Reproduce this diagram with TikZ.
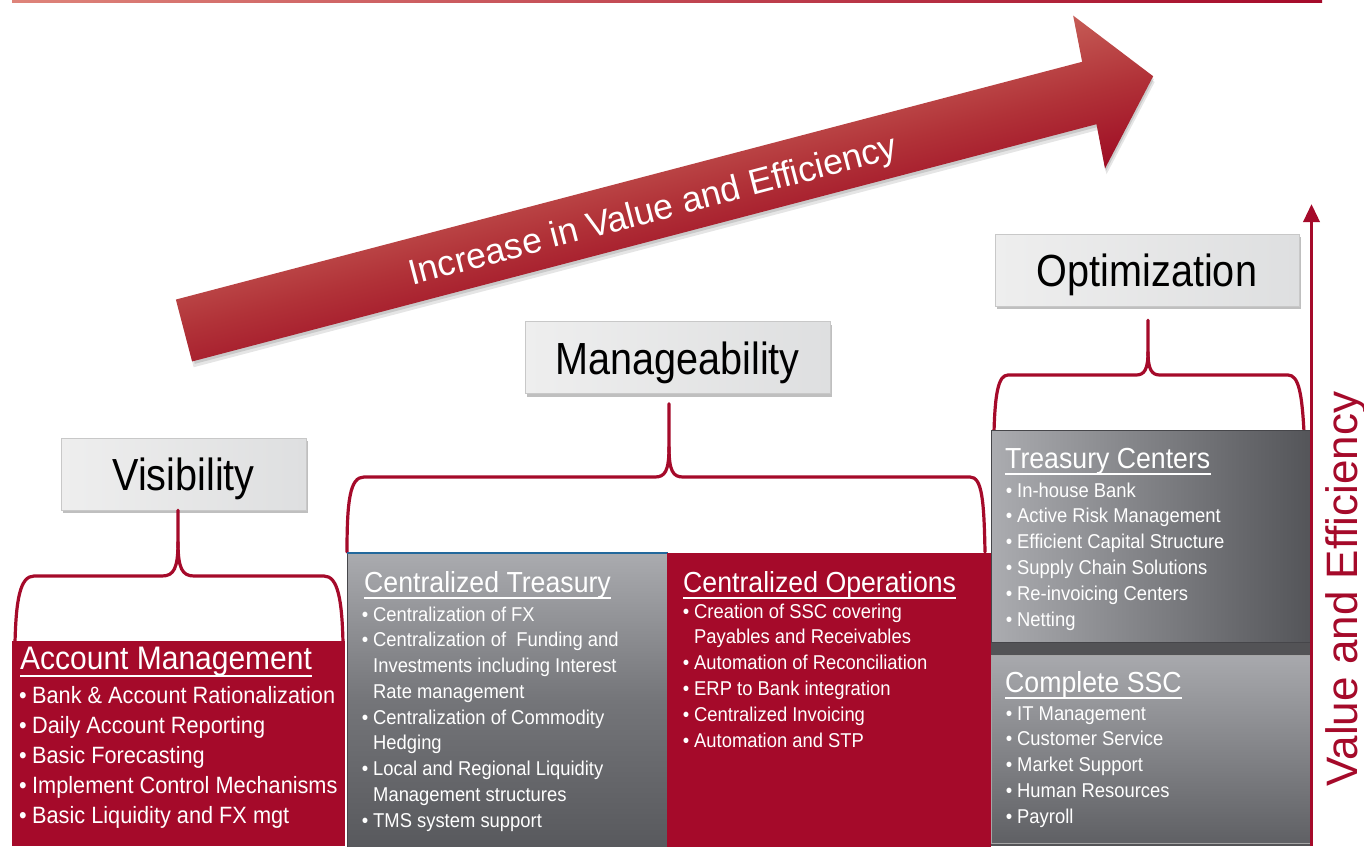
\documentclass[tikz,border=0pt]{standalone}
\usepackage{fontspec}
\setmainfont{Liberation Sans}
\newfontfamily\condfont{Liberation Sans}[FakeStretch=0.92]
\newfontfamily\labelfont{Liberation Sans}[FakeStretch=0.88]
\usetikzlibrary{arrows.meta,shadows,calc}

\definecolor{brandred}{RGB}{165,10,42}
\definecolor{topl}{RGB}{222,132,122}
\definecolor{labelleft}{RGB}{238,238,238}
\definecolor{labelright}{RGB}{222,223,224}
\definecolor{labelborder}{RGB}{200,200,200}
\definecolor{ctTop}{RGB}{170,171,175}
\definecolor{ctMid}{RGB}{116,117,121}
\definecolor{ctBot}{RGB}{88,89,93}
\definecolor{tcLeft}{RGB}{171,172,176}
\definecolor{tcRight}{RGB}{84,85,89}
\definecolor{sscTop}{RGB}{168,169,173}
\definecolor{sscBot}{RGB}{95,96,100}
\definecolor{colback}{RGB}{83,83,86}
\definecolor{topblue}{RGB}{34,104,156}
\definecolor{paneledge}{RGB}{70,70,74}
\definecolor{arrowTop}{RGB}{198,92,86}
\definecolor{arrowMid}{RGB}{177,50,56}
\definecolor{arrowBot}{RGB}{158,12,36}

\newcommand\bul{\llap{•\hspace{5pt}}}
\newcommand\bigbul{\llap{•\hspace{5.5pt}}}

\tikzset{
  labelbox/.style={draw=labelborder, line width=0.6pt, left color=labelleft,
    right color=labelright, minimum height=72pt, inner sep=0pt,
    text height=33pt, text depth=0pt,
    font=\labelfont\fontsize{45}{45}\selectfont,
    drop shadow={shadow xshift=2pt, shadow yshift=-3pt, fill=black!45, opacity=0.55}},
  brace/.style={draw=brandred, line width=3.2pt, line cap=round, line join=round},
  redpanel/.style={anchor=north west, fill=brandred, inner sep=0pt},
  graypanel/.style={anchor=north west, draw=paneledge, line width=0.8pt, inner sep=0pt},
  paneltitle/.style={anchor=base west, inner sep=0pt, text=white,
    font=\condfont\fontsize{29}{29}\selectfont},
  bigtitle/.style={paneltitle, font=\condfont\fontsize{32.6}{32.6}\selectfont},
  item/.style={anchor=base west, inner sep=0pt, text=white,
    font=\condfont\fontsize{20}{20}\selectfont},
  bigitem/.style={item, font=\condfont\fontsize{23.6}{23.6}\selectfont},
  uline/.style={draw=white, line width=2pt},
}

\begin{document}
\begin{tikzpicture}[x=1pt,y=-1pt]
\useasboundingbox (0,0) rectangle (1364,846);
\fill[white] (0,0) rectangle (1364,846);

% thin rule along the top edge
\shade[left color=topl, right color=brandred] (12,0) rectangle (1322,2.5);

% big slanted arrow, drawn horizontally and turned into place
\begin{scope}[transform canvas={shift={(184,330.5)}, rotate=14.7}]
  \fill[black, opacity=0.10] (0,-26) -- (937,-26) -- (940,-73) -- (1002,6) -- (932,83) -- (935,38) -- (0,38) -- cycle;
  \fill[black, opacity=0.12] (2,-29) -- (937,-29) -- (940,-76) -- (1002,3) -- (932,80) -- (935,35) -- (2,35) -- cycle;
  \shade[top color=arrowTop, bottom color=arrowBot, middle color=arrowMid]
    (0,-32) -- (937,-32) -- (940,-79) -- (1002,0) -- (932,77) -- (935,32) -- (0,32) -- cycle;
  \node[anchor=base west, inner sep=0pt, text=white, font=\fontsize{35.6}{35.6}\selectfont]
    (arrowtext) at (232,14) {Increase in Value and Efficiency};
\end{scope}

% stage labels
\node[labelbox, minimum width=245pt] (vis) at (183.5,474) {Visibility};
\node[labelbox, minimum width=305pt] (man) at (677.5,357.5) {Manageability};
\node[labelbox, minimum width=304pt] (opt) at (1147,270) {Optimization};

% braces from each label down to its group of panels
\draw[brace] ($(vis.south)+(-5.5,0)$) -- (178,542)
  .. controls (178,568) and (174,576) .. (162,576) -- (34,576)
  .. controls (20,576) and (16,600) .. (15,643);
\draw[brace] (178,542) .. controls (178,568) and (182,576) .. (194,576) -- (324,576)
  .. controls (338,576) and (342,600) .. (343,643);

\draw[brace] ($(man.south)+(-8.5,10)$) -- (669,447)
  .. controls (669,471) and (665,477) .. (655,477) -- (364,477)
  .. controls (350,477) and (347,500) .. (347,552);
\draw[brace] (669,447) .. controls (669,471) and (673,477) .. (683,477) -- (970,477)
  .. controls (982,477) and (984,500) .. (985,552);

\draw[brace] ($(opt.south)+(1,14)$) -- (1148,352)
  .. controls (1148,370) and (1144,375) .. (1136,375) -- (1008,375)
  .. controls (998,375) and (995,395) .. (994,432);
\draw[brace] (1148,352) .. controls (1148,370) and (1152,375) .. (1160,375) -- (1288,375)
  .. controls (1299,375) and (1302,395) .. (1304,432);

% panels
\node[redpanel, minimum width=333pt, minimum height=205pt] (amp) at (12,641) {};
\node[graypanel, top color=ctTop, bottom color=ctBot, middle color=ctMid,
  minimum width=320pt, minimum height=294pt] (ctp) at (347,553) {};
\draw[topblue, line width=2.2pt] (ctp.north west) -- (ctp.north east);
\node[redpanel, minimum width=324pt, minimum height=294pt] (cop) at (667,553) {};
\node[anchor=north west, fill=colback, inner sep=0pt, minimum width=319pt, minimum height=204pt] (colb) at (991,642) {};
\node[graypanel, left color=tcLeft, right color=tcRight,
  minimum width=319pt, minimum height=212pt] (tcp) at (991,430) {};
\node[graypanel, draw=gray!70, top color=sscTop, bottom color=sscBot,
  minimum width=319pt, minimum height=188pt] (sscp) at (991,655) {};

% Account Management
\node[bigtitle] (amt) at (20,669) {Account Management};
\draw[uline] ($(amt.base west)+(0,6.5)$) -- ($(amt.base east)+(0,6.5)$);
\foreach \t [count=\i from 0] in {
  {\bigbul Bank \& Account Rationalization},
  {\bigbul Daily Account Reporting},
  {\bigbul Basic Forecasting},
  {\bigbul Implement Control Mechanisms},
  {\bigbul Basic Liquidity and FX mgt}}
  \node[bigitem, name=ami\i] at (32,{703+30*\i}) {\t};

% Centralized Treasury
\node[paneltitle] (ctt) at (364,592) {Centralized Treasury};
\draw[uline] ($(ctt.base west)+(0,6)$) -- ($(ctt.base east)+(0,6)$);
\foreach \t [count=\i from 0] in {
  {\bul Centralization of FX},
  {\bul Centralization of \ Funding and},
  {Investments including Interest},
  {Rate management},
  {\bul Centralization of Commodity},
  {Hedging},
  {\bul Local and Regional Liquidity},
  {Management structures},
  {\bul TMS system support}}
  \node[item, name=cti\i] at (373,{621+25.75*\i}) {\t};

% Centralized Operations
\node[paneltitle] (cot) at (683,592) {Centralized Operations};
\draw[uline] ($(cot.base west)+(0,5.5)$) -- ($(cot.base east)+(0,5.5)$);
\foreach \t [count=\i from 0] in {
  {\bul Creation of SSC covering},
  {Payables and Receivables},
  {\bul Automation of Reconciliation},
  {\bul ERP to Bank integration},
  {\bul Centralized Invoicing},
  {\bul Automation and STP}}
  \node[item, name=coi\i] at (694,{618+25.8*\i}) {\t};

% Treasury Centers
\node[paneltitle] (tct) at (1005,468) {Treasury Centers};
\draw[uline] ($(tct.base west)+(0,5.5)$) -- ($(tct.base east)+(0,5.5)$);
\foreach \t [count=\i from 0] in {
  {\bul In-house Bank},
  {\bul Active Risk Management},
  {\bul Efficient Capital Structure},
  {\bul Supply Chain Solutions},
  {\bul Re-invoicing Centers},
  {\bul Netting}}
  \node[item, name=tci\i] at (1017,{497+25.8*\i}) {\t};

% Complete SSC
\node[paneltitle] (sst) at (1005,692) {Complete SSC};
\draw[uline] ($(sst.base west)+(0,5.5)$) -- ($(sst.base east)+(0,5.5)$);
\foreach \t [count=\i from 0] in {
  {\bul IT Management},
  {\bul Customer Service},
  {\bul Market Support},
  {\bul Human Resources},
  {\bul Payroll}}
  \node[item, name=ssi\i] at (1017,{720+25.8*\i}) {\t};

% vertical value axis
\coordinate (axisbot) at (1311.5,846);
\coordinate (axistop) at (1311.5,204);
\draw[brandred, line width=3.5pt, -{Triangle[width=16pt,length=18pt]}] (axisbot) -- (axistop);
\node[rotate=90, anchor=base, inner sep=0pt, text=brandred, font=\fontsize{44}{44}\selectfont]
  (axistext) at (1357,589) {Value and Efficiency};
\end{tikzpicture}
\end{document}
